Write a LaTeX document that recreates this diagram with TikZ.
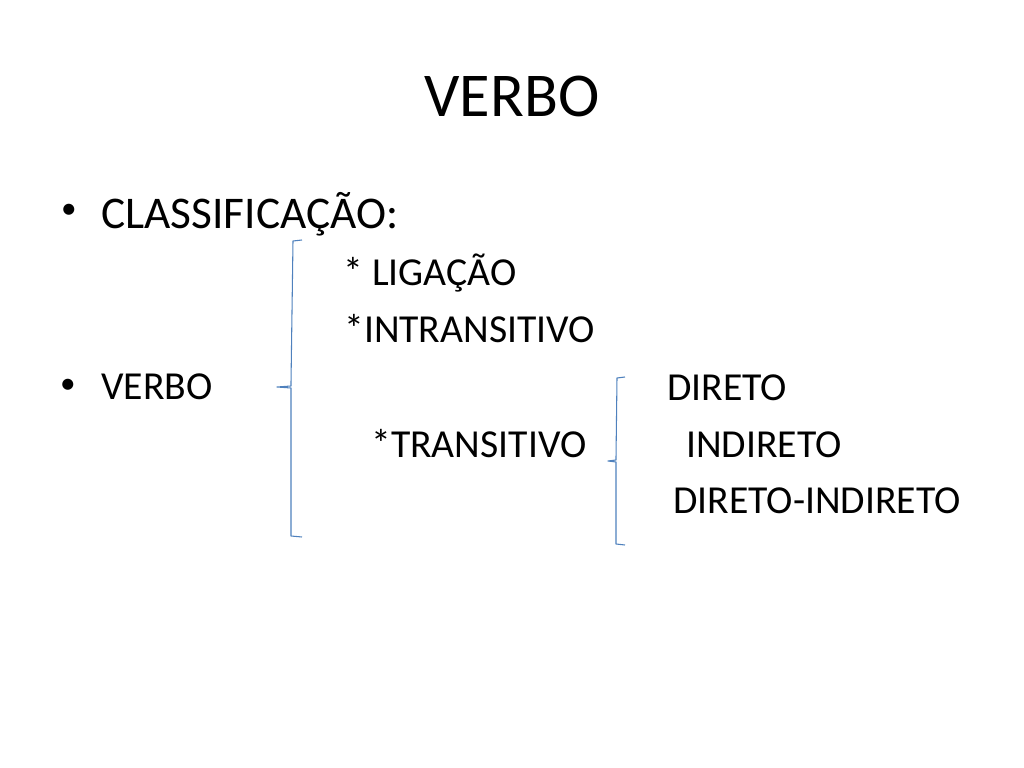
\documentclass[tikz,border=0pt]{standalone}
\usepackage{fontspec}
\setmainfont{Carlito}
\begin{document}
\begin{tikzpicture}[x=0.703125bp,y=-0.703125bp,
  txt/.style={anchor=base west,inner sep=0pt,font=\fontsize{28}{34}\selectfont},
  big/.style={anchor=base west,inner sep=0pt,font=\fontsize{32}{38}\selectfont},
  bul/.style={anchor=center,inner sep=0pt,font=\fontsize{22}{26}\selectfont},
  ttl/.style={anchor=base,inner sep=0pt,font=\fontsize{44}{52}\selectfont},
  brace/.style={draw={rgb,255:red,79;green,129;blue,189},line width=0.75pt,line join=round}]
\useasboundingbox (0,0) rectangle (1024,768);
\node[ttl] (title) at (512,117) {VERBO};
\node[bul] (b1) at (69,211) {•};
\node[big] (class) at (101,228) {CLASSIFICAÇÃO:};
\node[txt] (lig) at (343,285) {* LIGAÇÃO};
\node[txt] (intr) at (344,342) {*INTRANSITIVO};
\node[bul] (b2) at (68,386) {•};
\node[txt] (verbo) at (101,399) {VERBO};
\node[txt] (dir) at (667,400) {DIRETO};
\node[txt] (tran) at (371,457) {*TRANSITIVO};
\node[txt] (ind) at (686,457) {INDIRETO};
\node[txt] (dind) at (673,513) {DIRETO-INDIRETO};
\coordinate (A1) at (302,240);
\coordinate (A2) at (277,387);
\coordinate (A3) at (302,537);
\coordinate (B1) at (625,377);
\coordinate (B2) at (608,461);
\coordinate (B3) at (625,545);
\draw[brace] (A1) -- ++(-9,1) -- (291,383) -- (291,386) -- (A2) -- (291,388) -- (291,391) -- (291,536) -- (A3);
\draw[brace] (B1) -- ++(-8,1) -- (616,458) -- (616,460) -- (B2) -- (616,462) -- (616,464) -- (616,544) -- (B3);
\end{tikzpicture}
\end{document}
